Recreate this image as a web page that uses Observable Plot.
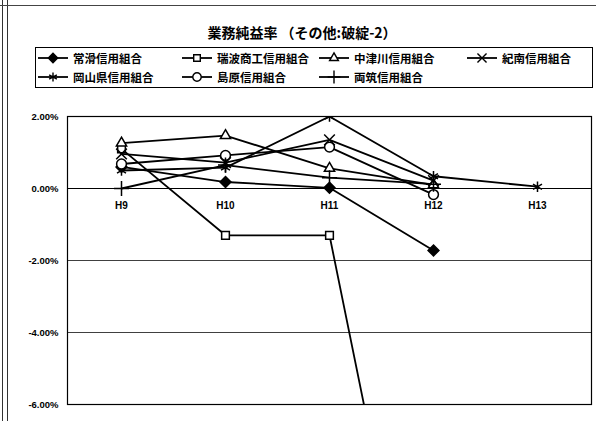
<!DOCTYPE html>
<html><head><meta charset="utf-8">
<script src="https://cdn.jsdelivr.net/npm/d3@7"></script>
<script src="https://cdn.jsdelivr.net/npm/@observablehq/plot@0.6"></script>
<style>
body{margin:0;background:#fff;}
#wrap{position:relative;width:596px;height:421px;overflow:hidden;background:#fff;font-family:"Noto Sans CJK JP",sans-serif;}
.vl{position:absolute;top:0;bottom:0;width:0;border-left:1px solid #333;}
#topline{position:absolute;left:0;right:0;top:5px;border-top:1px solid #444;}
#title{position:absolute;left:0;width:604px;top:22px;text-align:center;font-size:14px;font-weight:bold;color:#000;}
#legend{position:absolute;left:35px;top:47px;width:556px;height:39px;border:1px solid #000;}
.li{position:absolute;display:flex;align-items:center;font-size:11.5px;font-weight:bold;white-space:nowrap;color:#000;height:16px;}
#chart{position:absolute;left:0;top:100px;}
</style></head>
<body><div id="wrap">
<div class="vl" style="left:2px"></div>
<div class="vl" style="left:7px"></div>
<div id="topline"></div>
<div id="title">業務純益率 （その他:破綻-2）</div>
<div id="legend"></div>
<div id="chart"></div>
</div>
<script>
const years = ["H9", "H10", "H11", "H12", "H13"];
const names = ["常滑信用組合", "瑞波商工信用組合", "中津川信用組合", "紀南信用組合", "岡山県信用組合", "島原信用組合", "両筑信用組合"];
const tokoname    = [0.60, 0.18, 0.02, -1.72, null];
const mizunami    = [1.10, -1.30, -1.30, -15.5, null];
const nakatsugawa = [1.26, 1.47, 0.56, 0.10, null];
const kinan       = [0.96, 0.72, 1.35, 0.22, null];
const okayama     = [0.50, 0.58, 2.00, 0.34, 0.05];
const shimabara   = [0.68, 0.92, 1.15, -0.17, null];
const ryochiku    = [0.00, 0.65, 0.30, 0.12, null];
const yTicks = [-6, -4, -2, 0, 2];

const seriesValues = [tokoname, mizunami, nakatsugawa, kinan, okayama, shimabara, ryochiku];
const symbolOf = ["diamond2", "square2", "triangle2", "times", "asterisk", "circle", "plus"];
const fillOf = ["black", "white", "white", "white", "white", "white", "white"];

const data = [];
names.forEach((n, i) => seriesValues[i].forEach((v, j) => {
  if (v !== null) data.push({name: n, year: years[j], value: v, fill: fillOf[i]});
}));

const chart = Plot.plot({
  width: 596, height: 321,
  marginLeft: 67, marginRight: 5, marginTop: 16, marginBottom: 17,
  style: {fontFamily: "'Liberation Sans', Arial, sans-serif", fontSize: "9.5px", fontWeight: "bold", color: "#000", background: "transparent"},
  x: {type: "point", domain: years, padding: 0.5, axis: null},
  y: {domain: [-6, 2], ticks: yTicks, tickFormat: d => d.toFixed(2) + "%", tickSize: 0, tickPadding: 9, label: null},
  symbol: {domain: names, range: symbolOf},
  marks: [
    Plot.gridY(yTicks.filter(d => d !== 0), {stroke: "#000", strokeOpacity: 0.75, strokeWidth: 1}),
    Plot.frame({stroke: "#000", strokeWidth: 1.2}),
    Plot.ruleY([0], {stroke: "#000", strokeWidth: 1}),
    Plot.text(years, {x: d => d, y: 0, dy: 17, text: d => d, fill: "#000", fontSize: 10}),
    Plot.line(data, {x: "year", y: "value", z: "name", stroke: "#000", strokeWidth: 1.8, clip: true}),
    Plot.dot(data, {x: "year", y: "value", symbol: "name", stroke: "#000", fill: "fill", r: 4.9, strokeWidth: 1.5, clip: true})
  ]
});
document.getElementById("chart").appendChild(chart);

// legend built from the series names and their symbols
const legend = document.getElementById("legend");
const cols = [2, 146, 283, 431];
names.forEach((n, i) => {
  const row = i < 4 ? 0 : 1;
  const col = i < 4 ? i : i - 4;
  const div = document.createElement("div");
  div.className = "li";
  div.style.left = cols[col] + "px";
  div.style.top = (row === 0 ? 2 : 21) + "px";
  const w = 30;
  const svg = d3.create("svg").attr("width", w).attr("height", 14).style("margin-right", "5px");
  svg.append("line").attr("x1", 0).attr("x2", w).attr("y1", 7).attr("y2", 7).attr("stroke", "#000").attr("stroke-width", 1.8);
  const symMap = {diamond2: d3.symbolDiamond2, square2: d3.symbolSquare2, triangle2: d3.symbolTriangle2, times: d3.symbolTimes, asterisk: d3.symbolAsterisk, circle: d3.symbolCircle, plus: d3.symbolPlus};
  svg.append("path").attr("transform", `translate(${w/2},7)`)
    .attr("d", d3.symbol(symMap[symbolOf[i]], Math.PI * 4.2 * 4.2)())
    .attr("fill", fillOf[i]).attr("stroke", "#000").attr("stroke-width", 1.4);
  div.appendChild(svg.node());
  const span = document.createElement("span");
  span.textContent = n;
  div.appendChild(span);
  legend.appendChild(div);
});
</script>
</body></html>
